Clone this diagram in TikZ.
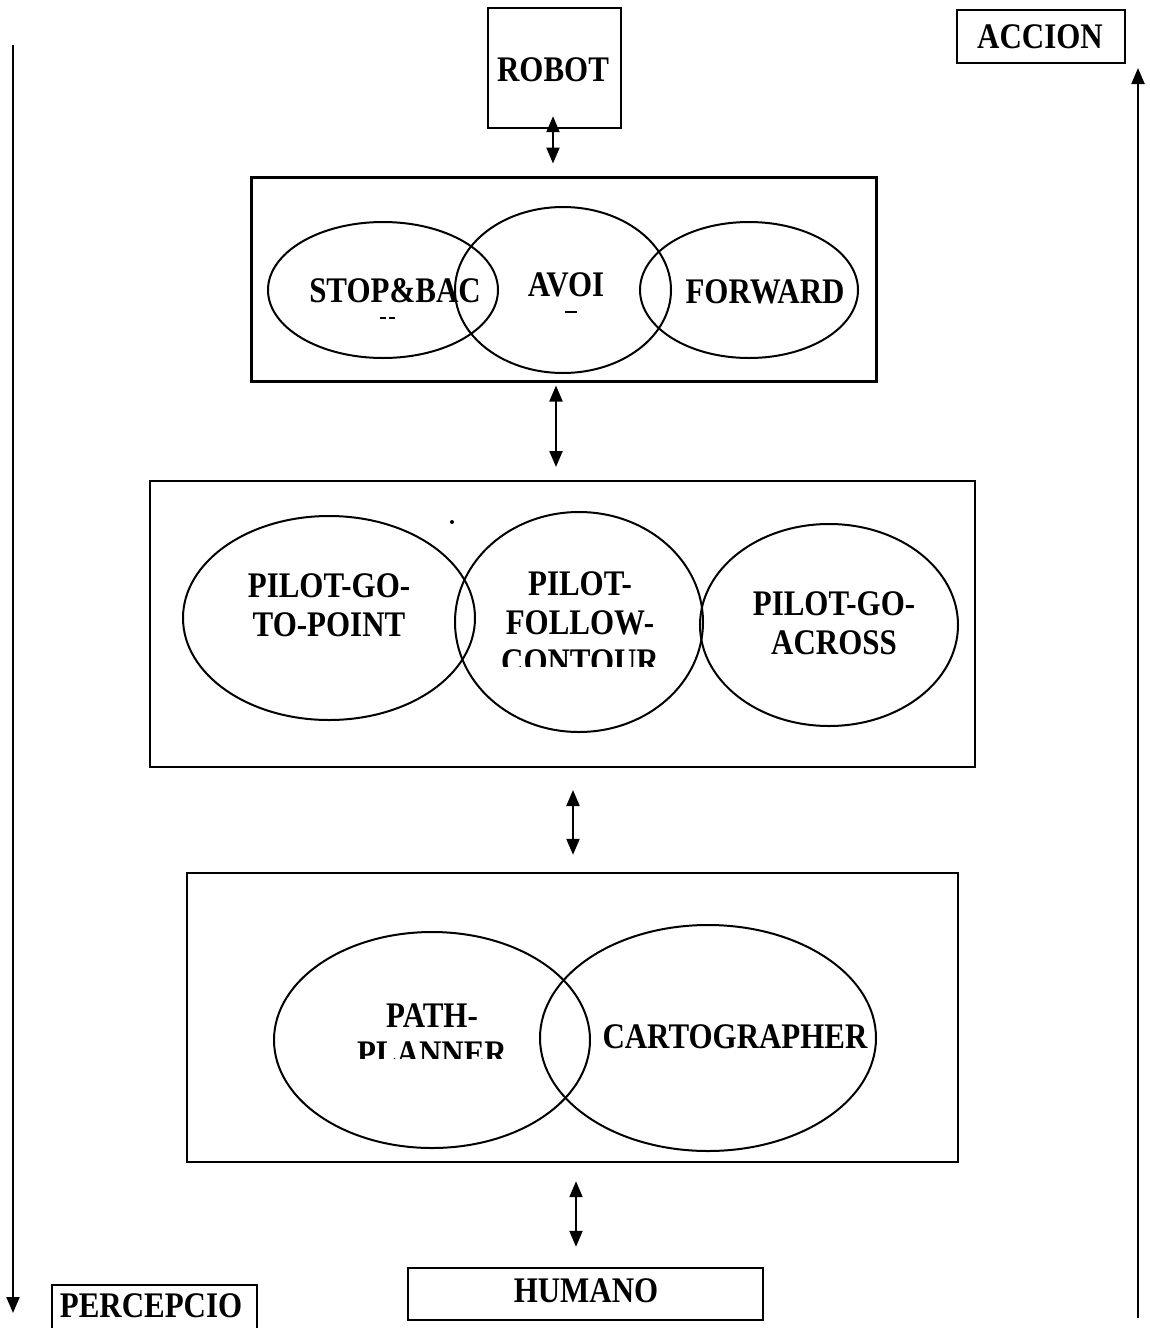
\documentclass[tikz,border=0pt]{standalone}
\usepackage{fontspec}
\setmainfont{Liberation Serif}[FakeStretch=0.86]
\usetikzlibrary{arrows.meta,shapes.geometric}
\begin{document}
\begin{tikzpicture}[x=1pt,y=-1pt,
  lbl/.style={font=\fontsize{36}{39}\selectfont\bfseries, inner sep=0pt, align=center},
  box/.style={draw, line width=2.4pt, inner sep=0pt},
  oval/.style={draw, ellipse, line width=2pt, inner sep=0pt},
  link/.style={line width=2.2pt, {Triangle[length=16pt,width=13pt]}-{Triangle[length=16pt,width=13pt]}},
  flow/.style={line width=2.2pt, -{Triangle[length=16pt,width=13pt]}}]
\useasboundingbox (0,0) rectangle (1149,1328);

% end boxes
\node[box, minimum width=133pt, minimum height=120pt] (robot) at (554.5,68) {};
\node[lbl] (robott) at (553,70) {ROBOT};
\node[box, minimum width=168pt, minimum height=53pt] (accion) at (1041,36.5) {};
\node[lbl] (acciont) at (1040,37) {ACCION};
\node[box, minimum width=355pt, minimum height=52pt] (humano) at (585.5,1294) {};
\node[lbl] (humanot) at (586,1291) {HUMANO};
\node[box, minimum width=205pt, minimum height=50pt] (percep) at (154.5,1310) {};
\node[lbl] (percept) at (151,1306) {PERCEPCIO};

% reactive layer
\node[box, line width=3pt, minimum width=625pt, minimum height=204pt] (b1) at (563.5,279) {};
\node[oval, minimum width=230pt, minimum height=136pt] (stop) at (383,290) {};
\node[oval, minimum width=216pt, minimum height=166pt] (avoi) at (563,290) {};
\node[oval, minimum width=218pt, minimum height=136pt] (fwd) at (749,290) {};
\node[lbl] (stopt) at (395,291) {STOP\&BAC};
\node[lbl] (avoit) at (566,285) {AVOI};
\node[lbl] (fwdt) at (765,292) {FORWARD};
\draw[line width=1.6pt] (380,318) -- (386,318) (389,318) -- (395,318);
\draw[line width=1.6pt] (565,312) -- (577,312);

% pilot layer
\node[box, line width=2pt, minimum width=825pt, minimum height=286pt] (b2) at (562.5,624) {};
\node[oval, minimum width=292pt, minimum height=204pt] (ggp) at (329,618) {};
\node[oval, minimum width=248pt, minimum height=220pt] (pfc) at (579,622) {};
\node[oval, minimum width=258pt, minimum height=202pt] (pga) at (829,625) {};
\fill (452,522) circle (2pt);
\node[lbl] (ggpt) at (329,605) {PILOT-GO-\\TO-POINT};
\node[lbl] (pfct) at (580,603) {PILOT-\\FOLLOW-};
\begin{scope}
  \clip (480,640) rectangle (680,666.5);
  \node[lbl] (pfcx) at (580,662) {CONTOUR};
\end{scope}
\node[lbl] (pgat) at (834,623) {PILOT-GO-\\ACROSS};

% planning layer
\node[box, line width=2.4pt, minimum width=771pt, minimum height=289pt] (b3) at (572.5,1017.5) {};
\node[oval, minimum width=316pt, minimum height=216pt] (path) at (432,1040) {};
\node[oval, minimum width=336pt, minimum height=226pt] (carto) at (708,1038) {};
\node[lbl] (patht) at (432,1016) {PATH-};
\begin{scope}
  \clip (330,1035) rectangle (540,1058);
  \node[lbl] (pathx) at (432,1054) {PLANNER};
\end{scope}
\node[lbl] (cartot) at (735,1037) {CARTOGRAPHER};

% links between layers
\coordinate (c1) at (553,0);
\coordinate (c2) at (556,0);
\coordinate (c3) at (573,0);
\coordinate (c4) at (576,0);
\draw[link] ([yshift=13pt]c1 |- robot.south) -- ([yshift=12pt]c1 |- b1.north);
\draw[link] ([yshift=-3pt]c2 |- b1.south) -- ([yshift=13pt]c2 |- b2.north);
\draw[link] ([yshift=-22pt]c3 |- b2.south) -- ([yshift=17pt]c3 |- b3.north);
\draw[link] ([yshift=-18pt]c4 |- b3.south) -- ([yshift=20pt]c4 |- humano.north);

% side flows
\coordinate (ptop) at (13,45);
\coordinate (pbot) at (13,1313);
\coordinate (abot) at (1138,1318);
\coordinate (atop) at (1138,68);
\draw[flow] (ptop) -- (pbot);
\draw[flow] (abot) -- (atop);
\end{tikzpicture}
\end{document}
